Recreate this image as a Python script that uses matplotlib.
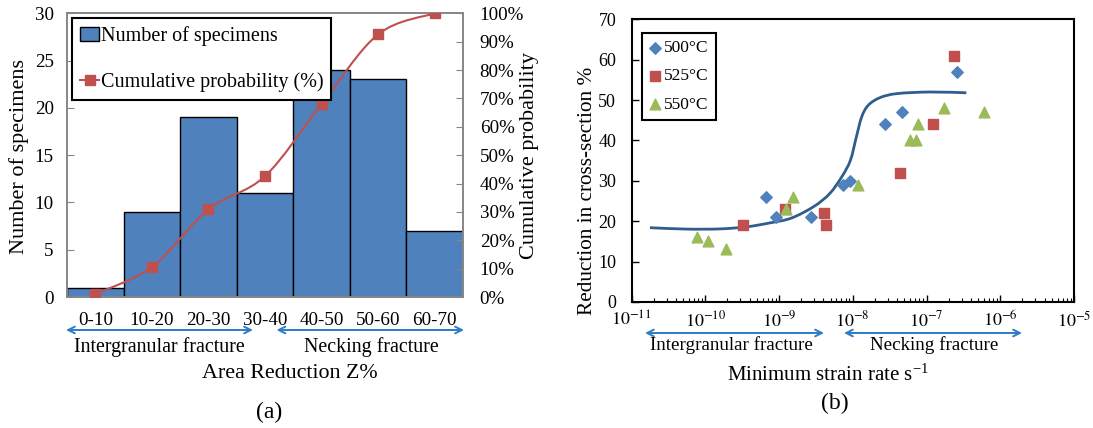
import matplotlib
matplotlib.use('Agg')
import matplotlib.pyplot as plt
import numpy as np
from matplotlib.path import Path
from matplotlib.patches import PathPatch, Patch
from matplotlib.lines import Line2D
from matplotlib.ticker import LogLocator, NullFormatter

plt.rcParams['font.family'] = ['Liberation Serif', 'DejaVu Serif']
plt.rcParams['mathtext.fontset'] = 'stix'

# ---- panel (a) data
ranges = ['0-10', '10-20', '20-30', '30-40', '40-50', '50-60', '60-70']
counts = [1, 9, 19, 11, 24, 23, 7]
cum_prob = [1.1, 10.6, 30.9, 42.6, 68.1, 92.6, 100.0]

# ---- panel (b) data
rate_500 = [6.7e-10, 9.0e-10, 2.7e-9, 7.3e-9, 9.3e-9, 2.7e-8, 4.6e-8, 2.6e-7]
red_500 = [26, 21, 21, 29, 30, 44, 47, 57]
rate_525 = [3.3e-10, 1.2e-9, 4.1e-9, 4.4e-9, 4.4e-8, 1.22e-7, 2.36e-7]
red_525 = [19, 23, 22, 19, 32, 44, 61]
rate_550 = [7.8e-11, 1.1e-10, 1.9e-10, 1.24e-9, 1.53e-9, 1.16e-8, 5.9e-8, 7.2e-8, 7.6e-8, 1.75e-7, 6.1e-7]
red_550 = [16, 15, 13, 23, 26, 29, 40, 40, 44, 48, 47]
fit_rate = [1.78e-11, 5.6e-11, 1.58e-10, 3.6e-10, 7.6e-10, 1.48e-9, 3.0e-9, 4.9e-9,
            7.1e-9, 9.3e-9, 1.12e-8, 1.32e-8, 1.62e-8, 2.34e-8, 3.98e-8, 1.12e-7, 3.47e-7]
fit_red = [18.4, 18.05, 18.1, 18.6, 19.6, 20.8, 23.7, 26.9,
           31.0, 35.1, 40.9, 45.8, 48.7, 50.6, 51.6, 52.0, 51.8]

BLUE = '#4F81BD'
RED = '#C0504D'
GREEN = '#9BBB59'
ARROW = '#2E7CC4'
W, H = 1093, 428


def smooth_path(xs, ys):
    # Catmull-Rom style bezier through the points (like Excel smoothed lines)
    p = np.column_stack([xs, ys]).astype(float)
    ext = np.vstack([p[0], p, p[-1]])
    verts = [p[0]]
    codes = [Path.MOVETO]
    for i in range(len(p) - 1):
        p0, p1, p2, p3 = ext[i], ext[i + 1], ext[i + 2], ext[i + 3]
        verts += [p1 + (p2 - p0) / 6, p2 - (p3 - p1) / 6, p2]
        codes += [Path.CURVE4] * 3
    return np.array(verts), codes


def fig_xy(x, y):
    return (x / W, 1 - y / H)


def arrow(x0, x1, y):
    fig.add_artist(plt.Annotation('', xy=fig_xy(x0, y), xytext=fig_xy(x1, y),
                                  xycoords='figure fraction',
                                  arrowprops=dict(arrowstyle='<->', color=ARROW, lw=1.4,
                                                  mutation_scale=12, shrinkA=0, shrinkB=0)))


fig = plt.figure(figsize=(W / 100, H / 100), dpi=100)

# ================= (a)
ax = fig.add_axes([67 / W, 1 - 297 / H, 396 / W, 283.7 / H])
pos = np.arange(len(ranges))
ax.bar(pos, counts, width=1.0, color=BLUE, edgecolor='black', linewidth=1, zorder=2)
ax.set_xlim(-0.5, 6.5)
ax.set_ylim(0, 30)
ax.set_yticks(range(0, 31, 5))
ax.set_xticks(pos)
ax.set_xticklabels(ranges)
ax.tick_params(axis='x', length=0, pad=11, labelsize=13.7)
ax.tick_params(axis='y', direction='in', length=5, labelsize=13.7, pad=9.5, color='#868686')
for s in ax.spines.values():
    s.set_color('#868686')
    s.set_linewidth(1.2)
ax.set_ylabel('Number of specimens', fontsize=16)
ax.yaxis.label.set_va('center')
ax.yaxis.set_label_coords(-0.12, 0.497)

ax2 = ax.twinx()
ax2.set_ylim(0, 100)
ax2.set_yticks(range(0, 101, 10))
ax2.set_yticklabels([f'{v}%' for v in range(0, 101, 10)])
ax2.tick_params(axis='y', direction='in', length=5, labelsize=13.7, pad=12, color='#868686')
for s in ax2.spines.values():
    s.set_color('#868686')
    s.set_linewidth(1.2)
verts, codes = smooth_path(pos, cum_prob)
ax2.add_patch(PathPatch(Path(verts, codes), facecolor='none', edgecolor=RED, lw=1.5, zorder=3))
ax2.plot(pos, cum_prob, ls='none', marker='s', ms=6.5, color=RED, zorder=4)
ax2.set_ylabel('Cumulative probability', fontsize=16)
ax2.yaxis.label.set_va('center')
ax2.yaxis.set_label_coords(1.169, 0.5)

hnd = [Patch(facecolor=BLUE, edgecolor='black'),
       Line2D([], [], color=RED, marker='s', ms=6.5, lw=1.5)]
leg = ax2.legend(hnd, ['Number of specimens', 'Cumulative probability (%)'],
                 loc='upper left', bbox_to_anchor=fig_xy(72.4, 17.7),
                 bbox_transform=fig.transFigure, fontsize=14.5, fancybox=False,
                 framealpha=1, edgecolor='black', borderpad=0.4, labelspacing=1.3,
                 handlelength=0.9, handletextpad=0.1, borderaxespad=0)
leg.get_frame().set_linewidth(1.5)

arrow(66, 253, 330)
arrow(276.5, 464, 330)
fig.text(*fig_xy(159.5, 347), 'Intergranular fracture', ha='center', va='center', fontsize=14.4)
fig.text(*fig_xy(371, 347), 'Necking fracture', ha='center', va='center', fontsize=14.4)
fig.text(*fig_xy(290, 373), 'Area Reduction Z%', ha='center', va='center', fontsize=15.8)
fig.text(*fig_xy(269, 412), '(a)', ha='center', va='center', fontsize=17)

# ================= (b)
bx = fig.add_axes([631.5 / W, 1 - 302 / H, 442.5 / W, 282.7 / H])
bx.set_xscale('log')
bx.set_xlim(1e-11, 1e-5)
bx.set_ylim(0, 70)
bx.set_yticks(range(0, 71, 10))
bx.xaxis.set_minor_locator(LogLocator(base=10, subs=np.arange(2, 10), numticks=20))
bx.xaxis.set_minor_formatter(NullFormatter())
bx.set_xticks([10.0 ** e for e in range(-11, -4)])
bx.set_xticklabels([f'$10^{{{e}}}$' for e in range(-11, -4)])
bx.tick_params(which='major', direction='in', length=5, labelsize=13, width=1)
bx.tick_params(which='minor', direction='in', length=3, width=0.8)
bx.tick_params(axis='y', pad=11)
bx.tick_params(axis='x', pad=6)
for s in bx.spines.values():
    s.set_linewidth(1.5)

verts, codes = smooth_path(np.log10(fit_rate), fit_red)
verts[:, 0] = 10 ** verts[:, 0]
bx.add_patch(PathPatch(Path(verts, codes), facecolor='none', edgecolor='#2F5D8E', lw=2, zorder=2))
bx.scatter(rate_500, red_500, marker='D', s=34, color=BLUE, label='500°C', zorder=3)
bx.scatter(rate_525, red_525, marker='s', s=50, color=RED, label='525°C', zorder=3)
bx.scatter(rate_550, red_550, marker='^', s=60, color=GREEN, label='550°C', zorder=3)
bx.set_ylabel('Reduction in cross-section %', fontsize=15.3)
bx.yaxis.label.set_va('center')
bx.yaxis.set_label_coords((587 - 631.5) / 442.5, 1 - (191 - 19.3) / 282.7)

leg2 = bx.legend(loc='upper left', bbox_to_anchor=fig_xy(641.5, 33),
                 bbox_transform=fig.transFigure, fontsize=12.5, fancybox=False,
                 framealpha=1, edgecolor='black', borderpad=0.4, labelspacing=0.7,
                 handlelength=0.8, handletextpad=0.1, borderaxespad=0, scatterpoints=1)
leg2.get_frame().set_linewidth(1.5)

arrow(645, 824, 333)
arrow(844, 1022, 333)
fig.text(*fig_xy(731.5, 345), 'Intergranular fracture', ha='center', va='center', fontsize=13.7)
fig.text(*fig_xy(934, 345), 'Necking fracture', ha='center', va='center', fontsize=13.7)
fig.text(*fig_xy(828, 375), 'Minimum strain rate s$^{\\mathregular{-1}}$', ha='center', va='center', fontsize=15)
fig.text(*fig_xy(835, 403), '(b)', ha='center', va='center', fontsize=17)

fig.savefig('out.png', dpi=100)
